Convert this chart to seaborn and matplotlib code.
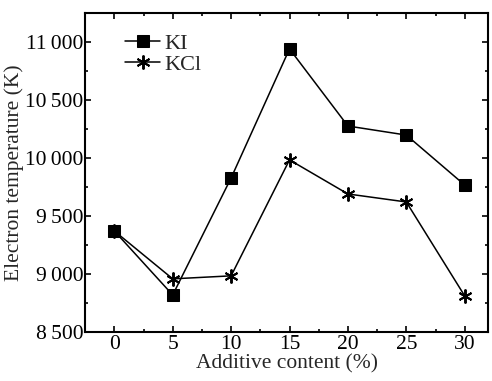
import matplotlib
matplotlib.use("Agg")
import matplotlib.pyplot as plt
import seaborn as sns
import pandas as pd
from matplotlib.ticker import MultipleLocator, FuncFormatter

additive = [0, 5, 10, 15, 20, 25, 30]
ki_temp = [9370, 8818, 9827, 10940, 10275, 10197, 9766]
kcl_temp = [9370, 8957, 8983, 9983, 9689, 9620, 8810]
y_ticks = [8500, 9000, 9500, 10000, 10500, 11000]
x_ticks = [0, 5, 10, 15, 20, 25, 30]

sns.set_theme(style="ticks")
plt.rcParams['font.family'] = ['Liberation Serif', 'DejaVu Serif']

fig = plt.figure(figsize=(4.92, 3.81), dpi=100)
ax = fig.add_axes([0.173, 0.129, 0.819, 0.837])

df_ki = pd.DataFrame({"x": additive, "y": ki_temp})
df_kcl = pd.DataFrame({"x": additive, "y": kcl_temp})

sns.lineplot(data=df_ki, x="x", y="y", ax=ax, color="black", linewidth=1.1,
             marker="s", markersize=8.5, markeredgecolor="black", label="KI")
sns.lineplot(data=df_kcl, x="x", y="y", ax=ax, color="black", linewidth=1.1,
             marker=(6, 2, 0), markersize=10, markeredgewidth=1.4,
             markeredgecolor="black", label="KCl")

ax.set_xlim(-2.5, 32)
ax.set_ylim(8500, 11250)
ax.set_xticks(x_ticks)
ax.set_yticks(y_ticks)
ax.xaxis.set_minor_locator(MultipleLocator(2.5))
ax.yaxis.set_minor_locator(MultipleLocator(250))
ax.yaxis.set_major_formatter(FuncFormatter(
    lambda v, p: f"{int(v):,}".replace(",", "\u2009")))

ax.tick_params(which="both", direction="in", top=True, right=True,
               labelsize=15.5, colors="black", width=1.2, pad=1)
ax.tick_params(which="major", length=4.5)
ax.tick_params(which="minor", length=2.5)
ax.tick_params(axis="x", pad=2.5)
for s in ax.spines.values():
    s.set_linewidth(1.5)
    s.set_color("black")

ax.set_xlabel("Additive content (%)", fontsize=15.5, labelpad=0)
ax.set_ylabel("Electron temperature (K)", fontsize=15.5, labelpad=1)

leg = ax.legend(loc="upper left", bbox_to_anchor=(0.078, 0.965), frameon=False,
                fontsize=16, handlelength=1.55, handletextpad=0.2,
                borderaxespad=0, labelspacing=0.05)

fig.savefig("out.png", dpi=100)
